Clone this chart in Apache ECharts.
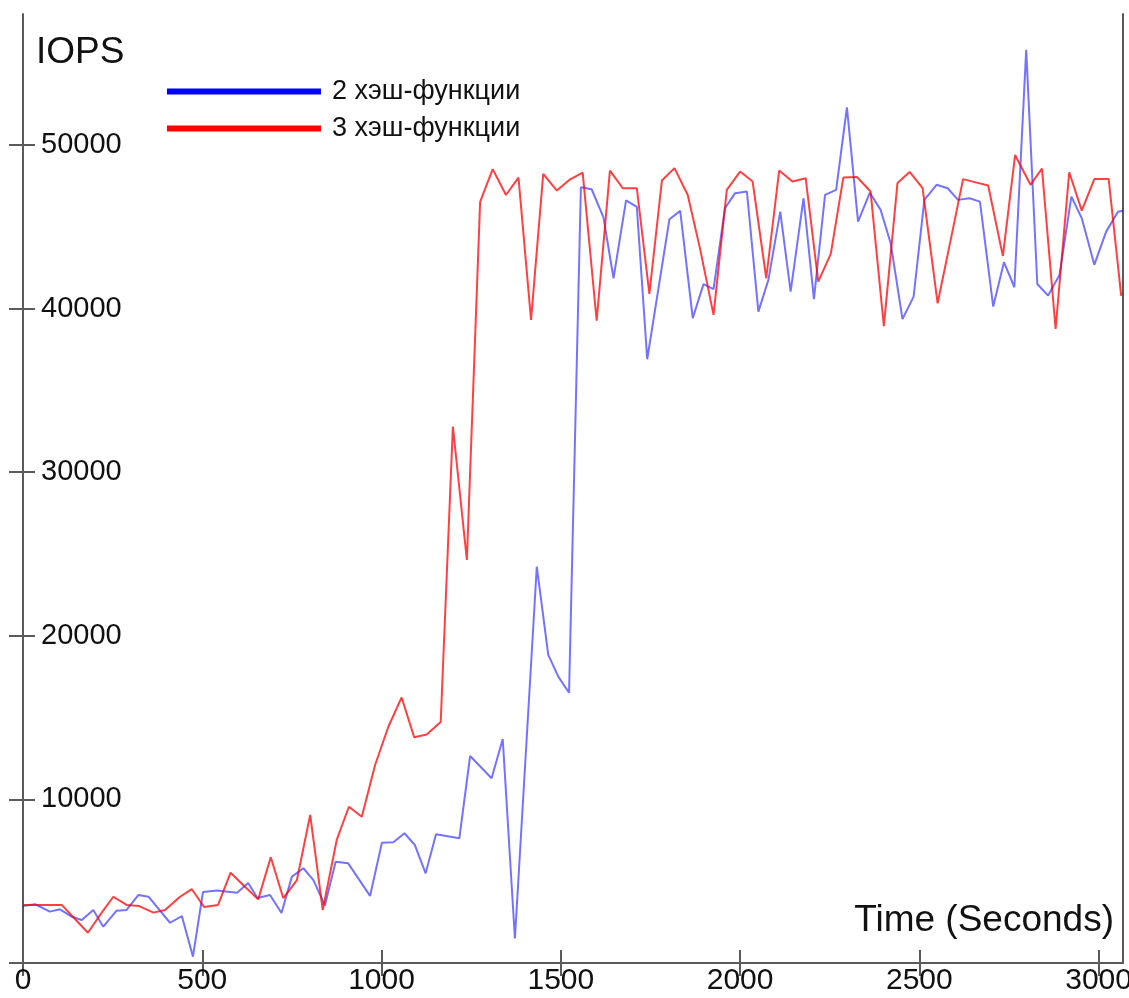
<!DOCTYPE html>
<html>
<head>
<meta charset="utf-8">
<title>IOPS</title>
<script src="https://cdn.jsdelivr.net/npm/echarts@6/dist/echarts.min.js"></script>
<style>
  html, body { margin: 0; padding: 0; background: #fff; }
  #chart { width: 1129px; height: 998px; }
</style>
</head>
<body>
<div id="chart"></div>
<script>
// 2 хэш-функции
var blueTime = [0, 34, 75, 103, 136, 164, 196, 224, 261, 289, 322, 350, 410, 443, 474, 502,
  541, 597, 628, 654, 689, 721, 750, 782, 810, 842, 872, 907, 968, 1001, 1033, 1064,
  1093, 1123, 1152, 1217, 1247, 1307, 1338, 1372, 1433, 1465, 1493, 1523, 1556, 1586,
  1619, 1647, 1682, 1712, 1741, 1803, 1833, 1868, 1898, 1926, 1958, 1986, 2019, 2051,
  2079, 2112, 2141, 2177, 2206, 2237, 2268, 2298, 2329, 2362, 2392, 2420, 2453, 2484,
  2514, 2548, 2579, 2608, 2640, 2669, 2706, 2736, 2765, 2798, 2829, 2859, 2891, 2924,
  2953, 2988, 3021, 3054, 3068];
var blueIops = [3480, 3590, 3140, 3280, 2830, 2630, 3240, 2220, 3200, 3240, 4160, 4050, 2460, 2870, 390, 4340,
  4430, 4300, 4890, 3970, 4160, 3060, 5280, 5790, 5070, 3520, 6190, 6090, 4100, 7350, 7380, 7930,
  7210, 5480, 7870, 7620, 12650, 11290, 13690, 1500, 24220, 18830, 17500, 16520, 47410, 47290,
  45570, 41850, 46610, 46210, 36900, 45460, 45970, 39410, 41490, 41180, 46130, 47050, 47150, 39810,
  41750, 45920, 41030, 46740, 40570, 46940, 47250, 52300, 45310, 47080, 46030, 43990, 39350, 40730,
  46640, 47560, 47350, 46640, 46740, 46530, 40120, 42830, 41300, 55810, 41500, 40790, 42050, 46840,
  45520, 42670, 44700, 45920, 45970];

// 3 хэш-функции
var redTime = [0, 36, 72, 108, 145, 181, 218, 252, 289, 324, 364, 396, 438, 471, 505, 544,
  579, 619, 656, 691, 726, 764, 801, 836, 875, 909, 945, 982, 1019, 1056, 1091, 1126,
  1165, 1199, 1238, 1275, 1310, 1347, 1382, 1417, 1451, 1489, 1526, 1561, 1600, 1637,
  1673, 1712, 1747, 1782, 1817, 1854, 1888, 1926, 1963, 2000, 2035, 2073, 2109, 2146,
  2183, 2218, 2253, 2288, 2326, 2364, 2401, 2439, 2473, 2509, 2551, 2586, 2622, 2657,
  2692, 2733, 2767, 2810, 2842, 2880, 2918, 2953, 2988, 3028, 3063];
var redIops = [3550, 3550, 3550, 3550, 2690, 1850, 3030, 4050, 3550, 3480, 3080, 3240, 4050, 4510, 3420, 3550,
  5520, 4660, 3890, 6460, 3960, 5070, 9050, 3240, 7520, 9550, 8940, 12100, 14440, 16230, 13800, 13960,
  14730, 32790, 24630, 46520, 48520, 46940, 48000, 39300, 48230, 47210, 47900, 48310, 39260, 48430,
  47350, 47350, 40890, 47820, 48580, 46940, 43690, 39610, 47250, 48370, 47760, 41850, 48430, 47760,
  47960, 41640, 43340, 48000, 48040, 47150, 38920, 47670, 48350, 47360, 40320, 44040, 47910, 47710,
  47520, 43200, 49380, 47560, 48550, 38750, 48330, 45980, 47910, 47910, 40770];

var xTicks = [0, 500, 1000, 1500, 2000, 2500, 3000];
var yTicks = [0, 10000, 20000, 30000, 40000, 50000];
var yLabels = [10000, 20000, 30000, 40000, 50000];

function pairs(xs, ys) {
  return xs.map(function (x, i) { return [x, ys[i]]; });
}

// plain numbers, no thousands separator
function plain(v) {
  return String(v);
}

var FONT = "'Liberation Sans', Arial, sans-serif";
var AXIS_COLOR = '#5a5a5a';

var chart = echarts.init(document.getElementById('chart'), null, {renderer: 'canvas'});

var option = {
  animation: false,
  backgroundColor: '#fff',
  grid: {left: 23, top: 14, right: 6, bottom: 35, outerBoundsMode: 'none'},
  legend: {
    orient: 'vertical',
    left: 167,
    top: 78,
    padding: 0,
    icon: 'rect',
    itemWidth: 154,
    itemHeight: 6,
    itemGap: 10,
    textStyle: {fontFamily: FONT, fontSize: 27, color: '#111', padding: [0, 0, 0, 6]},
    data: ['2 хэш-функции', '3 хэш-функции']
  },
  graphic: [
    {type: 'text', left: 36, top: 34, style: {text: 'IOPS', font: '37px ' + FONT, fill: '#111'}},
    {type: 'text', right: 15, top: 902, style: {text: 'Time (Seconds)', font: '37px ' + FONT, fill: '#111'}}
  ],
  xAxis: [
    {
      type: 'value', position: 'bottom', min: 0, max: 3068,
      splitLine: {show: false},
      axisLine: {lineStyle: {color: AXIS_COLOR, width: 2}},
      axisTick: {inside: true, length: 13, lineStyle: {color: AXIS_COLOR, width: 2}, customValues: xTicks},
      axisLabel: {fontFamily: FONT, fontSize: 30, color: '#111', margin: 3, customValues: xTicks, formatter: plain}
    },
    {
      type: 'value', position: 'top', min: 0, max: 3068,
      splitLine: {show: false},
      axisLine: {lineStyle: {color: AXIS_COLOR, width: 2}},
      axisTick: {inside: true, length: 13, lineStyle: {color: AXIS_COLOR, width: 2}, customValues: xTicks},
      axisLabel: {show: false}
    }
  ],
  yAxis: [
    {
      type: 'value', position: 'left', min: 0, max: 58000,
      splitLine: {show: false},
      axisLine: {lineStyle: {color: AXIS_COLOR, width: 2}},
      axisTick: {length: 14, lineStyle: {color: AXIS_COLOR, width: 2}, customValues: yTicks},
      axisLabel: {inside: true, margin: 18, fontFamily: FONT, fontSize: 29, color: '#111', customValues: yLabels, formatter: plain}
    },
    {
      // inner half of the crossing ticks
      type: 'value', position: 'left', min: 0, max: 58000,
      splitLine: {show: false},
      axisLine: {show: false},
      axisTick: {inside: true, length: 12, lineStyle: {color: AXIS_COLOR, width: 2}, customValues: yTicks},
      axisLabel: {show: false}
    },
    {
      type: 'value', position: 'right', min: 0, max: 58000,
      splitLine: {show: false},
      axisLine: {show: true, lineStyle: {color: AXIS_COLOR, width: 2}},
      axisTick: {show: false},
      axisLabel: {show: false}
    }
  ],
  series: [
    {
      name: '2 хэш-функции',
      type: 'line',
      symbol: 'none',
      color: '#0000ff',
      lineStyle: {width: 2, opacity: 0.55},
      data: pairs(blueTime, blueIops)
    },
    {
      name: '3 хэш-функции',
      type: 'line',
      symbol: 'none',
      color: '#ff0000',
      lineStyle: {width: 2, opacity: 0.75},
      data: pairs(redTime, redIops)
    }
  ]
};

chart.setOption(option);
</script>
</body>
</html>
